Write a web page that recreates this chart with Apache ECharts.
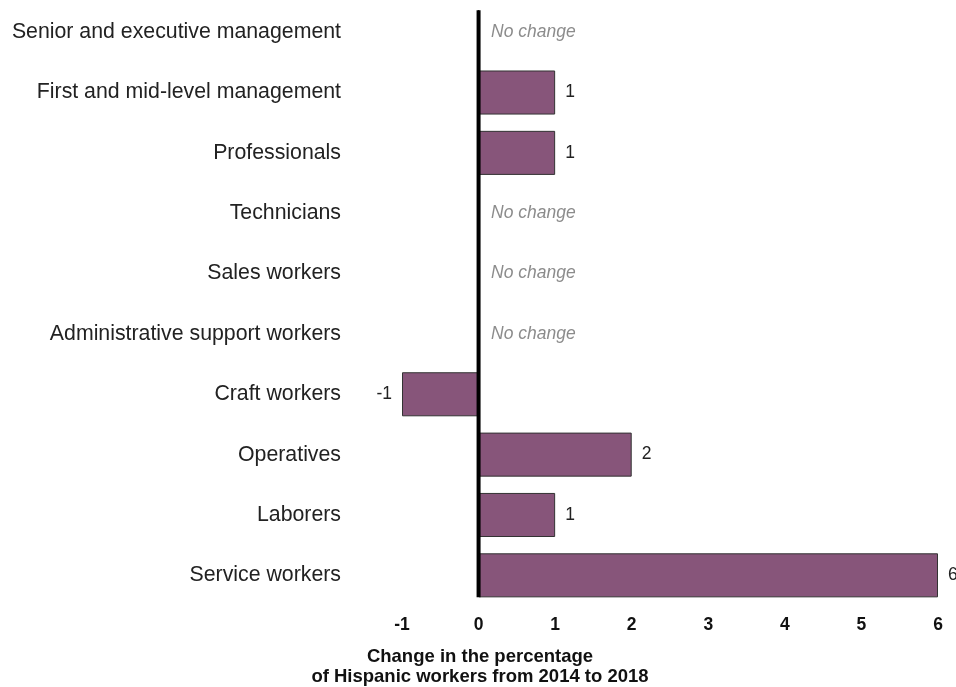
<!DOCTYPE html>
<html>
<head>
<meta charset="utf-8">
<script src="https://cdn.jsdelivr.net/npm/echarts@6/dist/echarts.min.js"></script>
<style>html,body{margin:0;padding:0;background:#fff}#c{width:956px;height:687px}</style>
</head>
<body>
<div id="c"></div>
<script>
const categories = ["Senior and executive management","First and mid-level management","Professionals","Technicians","Sales workers","Administrative support workers","Craft workers","Operatives","Laborers","Service workers"];
const values = [0,1,1,0,0,0,-1,2,1,6];
const xTicks = [-1,0,1,2,3,4,5,6];
const axisTitle = "Change in the percentage\nof Hispanic workers from 2014 to 2018";
const zeroLabel = "No change";
// zero reference line, in category-band units (0 = top of first band, 10 = bottom of last band)
const zeroLineSpan = [0.135, 9.865];

const FONT = "Liberation Sans, Arial, sans-serif";
const chart = echarts.init(document.getElementById('c'));

const data = values.map(v => {
  const item = { value: v };
  if (v === 0) {
    item.label = { position: 'right', distance: 12, formatter: zeroLabel, fontStyle: 'italic', color: '#8c8c8c', fontSize: 17.5 };
  } else if (v < 0) {
    item.label = { position: 'left', distance: 10 };
  }
  return item;
});

chart.setOption({
  animation: false,
  grid: { left: 402, right: 18, top: 2, bottom: 81.5 },
  xAxis: {
    type: 'value', min: xTicks[0], max: xTicks[xTicks.length-1], interval: 1,
    axisLine: { show: false }, axisTick: { show: false }, splitLine: { show: false },
    axisLabel: { color: '#111', fontWeight: 'bold', fontSize: 17.5, fontFamily: FONT, margin: 11 }
  },
  yAxis: [{
    type: 'category', data: categories, inverse: true,
    axisLine: { show: false, onZero: false }, axisTick: { show: false },
    axisLabel: { color: '#222', fontSize: 21.3, fontFamily: FONT, margin: 61 }
  }, {
    type: 'value', min: 0, max: categories.length, inverse: true, show: false,
    axisLine: { show: false, onZero: false }, splitLine: { show: false }
  }],
  graphic: [{
    type: 'text', x: 480, y: 647,
    style: { text: axisTitle, fontSize: 18.5, fontWeight: 'bold', fontFamily: FONT, fill: '#111', align: 'center', verticalAlign: 'top', lineHeight: 20 }
  }],
  series: [{
    type: 'bar', data: data, barWidth: '73%',
    itemStyle: { color: '#87557a', borderColor: '#333', borderWidth: 1 },
    label: { show: true, position: 'right', distance: 10, color: '#222', fontSize: 17.5, fontFamily: FONT }
  }, {
    type: 'line', yAxisIndex: 1, symbol: 'none', silent: true, z: 5,
    lineStyle: { color: '#000', width: 4 },
    data: zeroLineSpan.map(y => [0, y])
  }]
});
</script>
</body>
</html>
